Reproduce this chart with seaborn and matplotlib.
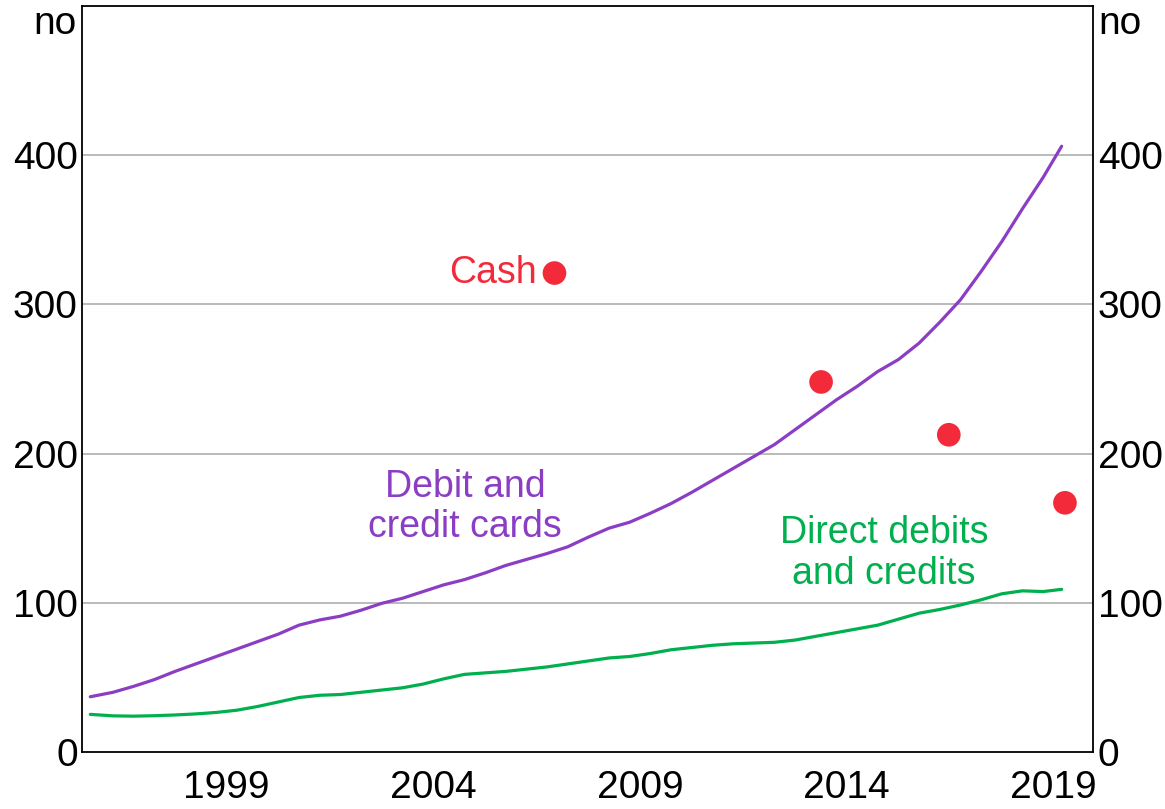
import matplotlib
matplotlib.use("Agg")
import matplotlib.pyplot as plt
import seaborn as sns
import numpy as np
import pandas as pd

# half-yearly observations, payments per capita
years = [1996.2, 1996.75, 1997.25, 1997.75, 1998.25, 1998.75, 1999.25, 1999.75,
         2000.25, 2000.75, 2001.25, 2001.75, 2002.25, 2002.75, 2003.25, 2003.75,
         2004.25, 2004.75, 2005.25, 2005.75, 2006.25, 2006.75, 2007.25, 2007.75,
         2008.25, 2008.75, 2009.25, 2009.75, 2010.25, 2010.75, 2011.25, 2011.75,
         2012.25, 2012.75, 2013.25, 2013.75, 2014.25, 2014.75, 2015.25, 2015.75,
         2016.25, 2016.75, 2017.25, 2017.75, 2018.25, 2018.75, 2019.25, 2019.7]

cards = [37, 40, 44, 48.5, 54, 59, 64, 69,
         74, 79, 85, 88.5, 91, 95, 99.6, 103,
         107.5, 112, 115.5, 120, 125, 129, 133, 137.5,
         144, 150, 154, 160, 166.5, 174, 182, 190,
         198, 206, 216, 226, 236, 245, 255, 263,
         274, 288, 303, 322, 342, 364, 385, 406]

direct = [25.2, 24.2, 24, 24.3, 24.8, 25.5, 26.5, 28,
          30.5, 33.5, 36.5, 38, 38.5, 40, 41.5, 43,
          45.5, 49, 52, 53, 54, 55.5, 57, 59,
          61, 63, 64, 66, 68.5, 70, 71.5, 72.5,
          73, 73.5, 75, 77.5, 80, 82.5, 85, 89,
          93, 95.5, 98.5, 102, 106, 108, 107.5, 109]

cash_years = [2007.43, 2013.88, 2016.97, 2019.78]
cash = [321, 248, 212.6, 167]

year_labels = [1999, 2004, 2009, 2014, 2019]

purple = "#8B3EC4"
green = "#00AF4D"
red = "#F22A3A"

sns.set_style("white")
plt.rcParams['font.family'] = ['Liberation Sans', 'DejaVu Sans']
plt.rcParams['text.color'] = 'black'
plt.rcParams['xtick.labelcolor'] = 'black'
plt.rcParams['ytick.labelcolor'] = 'black'

df = pd.DataFrame({"year": years, "cards": cards, "direct": direct})
cash_df = pd.DataFrame({"year": cash_years, "cash": cash})

fig = plt.figure(figsize=(11.65, 8.09), dpi=100)
ax = fig.add_axes([0.0704, 0.0705, 0.8682, 0.9221])

sns.lineplot(data=df, x="year", y="cards", ax=ax, color=purple, lw=2.3)
sns.lineplot(data=df, x="year", y="direct", ax=ax, color=green, lw=2.3)
sns.scatterplot(data=cash_df, x="year", y="cash", ax=ax, color=red, s=290,
                edgecolor="none", zorder=5)

ax.set_xlim(1996, 2020.47)
ax.set_ylim(0, 500)

for v in [100, 200, 300, 400]:
    ax.axhline(v, color="#b4b4b4", lw=1.3, zorder=0)

# year boundary ticks, labels at mid-year
ax.set_xticks(np.arange(1997, 2021))
ax.set_xticklabels([])
ax.set_xticks([y + 0.5 for y in year_labels], minor=True)
ax.set_xticklabels([str(y) for y in year_labels], minor=True)
ax.tick_params(axis="x", which="major", direction="in", length=10.5, width=1.3, color="black")
ax.tick_params(axis="x", which="minor", length=0, pad=13, labelsize=28, labelcolor="black")

ax.set_yticks([0, 100, 200, 300, 400])
ax.tick_params(axis="y", length=0, pad=3, labelsize=28, labelright=True, right=False,
               labelcolor="black")

for s in ax.spines.values():
    s.set_color("black")
    s.set_linewidth(1.3)

ax.set_xlabel("")
ax.set_ylabel("")

ax.text(-0.005, 1.0, "no", transform=ax.transAxes, ha="right", va="top", fontsize=28, color="black")
ax.text(1.005, 1.0, "no", transform=ax.transAxes, ha="left", va="top", fontsize=28, color="black")

ax.text(2007.0, 321, "Cash", color=red, fontsize=27, ha="right", va="center")
ax.text(2005.27, 164, "Debit and\ncredit cards", color=purple, fontsize=27,
        ha="center", va="center", linespacing=1.15)
ax.text(2015.4, 133, "Direct debits\nand credits", color=green, fontsize=27,
        ha="center", va="center", linespacing=1.15)

fig.savefig("out.png", dpi=100)
